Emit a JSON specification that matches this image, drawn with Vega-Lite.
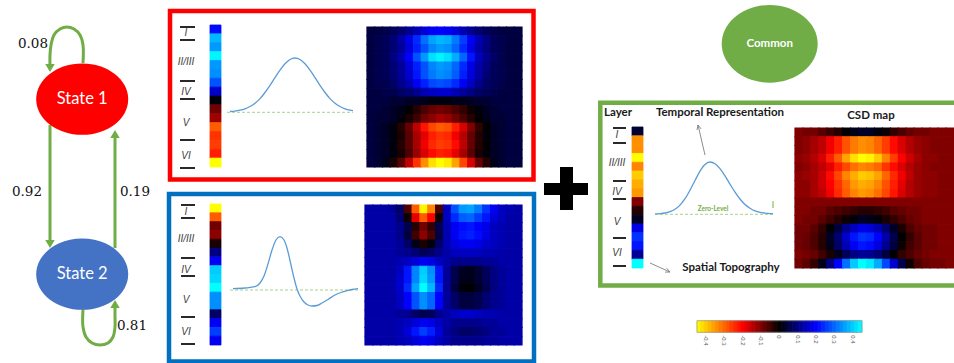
{
"$schema": "https://vega.github.io/schema/vega-lite/v6.json",
"width": 954, "height": 363,
"autosize": {"type": "none"},
"padding": 0,
"background": "#ffffff",
"config": {"view": {"stroke": null}, "axis": {"disable": true}, "font": "Lato"},
"datasets": {
"boxes": [{"b":"A","x":170,"x2":533.5,"y":11,"y2":179.5},{"b":"B","x":169,"x2":534,"y":194,"y2":361.5},{"b":"C","x":600.3,"x2":960,"y":102.7,"y2":285.5}],
"plus": [{"x":544,"x2":588,"y":183,"y2":195},{"x":560,"x2":573,"y":167,"y2":210}],
"arrows": [
{"id":"l1","o":0,"x":83,"y":63},{"id":"l1","o":1,"x":83,"y":45},{"id":"l1","o":2,"x":80,"y":35},{"id":"l1","o":3,"x":74,"y":29},{"id":"l1","o":4,"x":67,"y":27},{"id":"l1","o":5,"x":60,"y":29},{"id":"l1","o":6,"x":54,"y":35},{"id":"l1","o":7,"x":51,"y":45},{"id":"l1","o":8,"x":50,"y":55},{"id":"l1","o":9,"x":50,"y":66},
{"id":"d","o":0,"x":50,"y":125},{"id":"d","o":1,"x":50,"y":242},
{"id":"u","o":0,"x":115,"y":248},{"id":"u","o":1,"x":115,"y":136},
{"id":"l2","o":0,"x":83,"y":309},{"id":"l2","o":1,"x":83,"y":327},{"id":"l2","o":2,"x":86,"y":337},{"id":"l2","o":3,"x":92,"y":343},{"id":"l2","o":4,"x":100,"y":345},{"id":"l2","o":5,"x":108,"y":343},{"id":"l2","o":6,"x":113,"y":337},{"id":"l2","o":7,"x":115,"y":327},{"id":"l2","o":8,"x":115,"y":316},{"id":"l2","o":9,"x":115,"y":306}],
"tips": [{"d":"down","x":50,"y":68},{"d":"down","x":50,"y":244},{"d":"up","x":115,"y":134},{"d":"up","x":115,"y":304}],
"states": [{"n":"State 1","x":82.2,"y":99.2},{"n":"State 2","x":82.2,"y":274.2}],
"common": [{"n":"Common","x":769.7,"y":43.8}],
"probs": [{"t":"0.08","x":33,"y":44},{"t":"0.92","x":27,"y":192},{"t":"0.19","x":135,"y":192},{"t":"0.81","x":132,"y":326}],
"ticks": [
{"x":180,"x2":195,"y":27},{"x":180,"x2":195,"y":40},{"x":180,"x2":195,"y":81},{"x":180,"x2":195,"y":99},{"x":180,"x2":195,"y":140},{"x":180,"x2":195,"y":168},
{"x":181,"x2":195,"y":205},{"x":181,"x2":195,"y":218},{"x":181,"x2":195,"y":258},{"x":181,"x2":195,"y":276},{"x":181,"x2":195,"y":317},{"x":181,"x2":195,"y":344},
{"x":613,"x2":626,"y":128},{"x":613,"x2":626,"y":143},{"x":613,"x2":626,"y":181},{"x":613,"x2":626,"y":199},{"x":613,"x2":626,"y":238},{"x":613,"x2":626,"y":266}],
"labels": [
{"t":"I","x":186,"y":33},{"t":"II/III","x":186,"y":62},{"t":"IV","x":186,"y":92},{"t":"V","x":186,"y":123},{"t":"VI","x":186,"y":156},
{"t":"I","x":186,"y":212},{"t":"II/III","x":186,"y":239},{"t":"IV","x":186,"y":270},{"t":"V","x":186,"y":300},{"t":"VI","x":186,"y":332},
{"t":"I","x":617,"y":135},{"t":"II/III","x":617,"y":163},{"t":"IV","x":617,"y":192},{"t":"V","x":617,"y":222},{"t":"VI","x":617,"y":253}],
"curves": [
{"id":"A","x":230,"y":111.5},{"id":"A","x":235,"y":111.1},{"id":"A","x":240,"y":110.2},{"id":"A","x":245,"y":108.8},{"id":"A","x":250,"y":106.5},{"id":"A","x":255,"y":103.2},{"id":"A","x":260,"y":98.6},{"id":"A","x":265,"y":92.5},{"id":"A","x":270,"y":85.4},{"id":"A","x":275,"y":77.7},{"id":"A","x":280,"y":70.2},{"id":"A","x":285,"y":63.8},{"id":"A","x":290,"y":59.5},{"id":"A","x":295,"y":58},{"id":"A","x":300,"y":59.5},{"id":"A","x":305,"y":63.8},{"id":"A","x":310,"y":70.2},{"id":"A","x":315,"y":77.7},{"id":"A","x":320,"y":85.4},{"id":"A","x":325,"y":92.5},{"id":"A","x":330,"y":98.6},{"id":"A","x":335,"y":103.2},{"id":"A","x":340,"y":106.5},{"id":"A","x":345,"y":108.8},{"id":"A","x":350,"y":110.2},{"id":"A","x":353,"y":110.7},
{"id":"B","x":233,"y":288.7},{"id":"B","x":245,"y":288},{"id":"B","x":255,"y":286.7},{"id":"B","x":260,"y":283},{"id":"B","x":264,"y":276},{"id":"B","x":268,"y":264},{"id":"B","x":272,"y":250},{"id":"B","x":276,"y":240},{"id":"B","x":280,"y":236.7},{"id":"B","x":284,"y":240},{"id":"B","x":287,"y":248},{"id":"B","x":291,"y":265},{"id":"B","x":294,"y":278},{"id":"B","x":297,"y":289},{"id":"B","x":300,"y":296},{"id":"B","x":304,"y":302},{"id":"B","x":308,"y":305},{"id":"B","x":312,"y":306},{"id":"B","x":317,"y":305.5},{"id":"B","x":322,"y":303},{"id":"B","x":328,"y":299.5},{"id":"B","x":335,"y":295},{"id":"B","x":341,"y":292.5},{"id":"B","x":347,"y":290.7},{"id":"B","x":352,"y":289.5},{"id":"B","x":358,"y":288.7},
{"id":"C","x":655,"y":213.9},{"id":"C","x":660,"y":213.6},{"id":"C","x":665,"y":213},{"id":"C","x":670,"y":211.7},{"id":"C","x":675,"y":209.3},{"id":"C","x":680,"y":205.1},{"id":"C","x":685,"y":198.7},{"id":"C","x":690,"y":190.2},{"id":"C","x":695,"y":180.5},{"id":"C","x":700,"y":171.2},{"id":"C","x":705,"y":164.5},{"id":"C","x":710,"y":162},{"id":"C","x":715,"y":163.8},{"id":"C","x":720,"y":168.7},{"id":"C","x":725,"y":175.9},{"id":"C","x":730,"y":184.1},{"id":"C","x":735,"y":192.1},{"id":"C","x":740,"y":199},{"id":"C","x":745,"y":204.5},{"id":"C","x":750,"y":208.3},{"id":"C","x":755,"y":210.9},{"id":"C","x":760,"y":212.4},{"id":"C","x":765,"y":213.2},{"id":"C","x":770,"y":213.6},{"id":"C","x":773,"y":213.7}],
"zeros": [{"x":227,"x2":353,"y":112.3},{"x":230,"x2":358,"y":290},{"x":655,"x2":773,"y":214.3}],
"gtick": [{"x":773,"y":201,"y2":208}],
"gray": [
{"id":"T","o":0,"x":705,"y":155},{"id":"T","o":1,"x":698,"y":125},
{"id":"Tw","o":0,"x":697,"y":130},{"id":"Tw","o":1,"x":698,"y":125},{"id":"Tw","o":2,"x":701.1,"y":128.9},
{"id":"S","o":0,"x":650,"y":263},{"id":"S","o":1,"x":670,"y":272},
{"id":"Sw","o":0,"x":666.7,"y":268.2},{"id":"Sw","o":1,"x":670,"y":272},{"id":"Sw","o":2,"x":665,"y":272.1}],
"titles": [{"t":"Temporal Representation","x":720,"y":113},{"t":"CSD map","x":871,"y":116},{"t":"Spatial Topography","x":731,"y":268},{"t":"Layer","x":618,"y":113}],
"zl": [{"t":"Zero-Level","x":713,"y":209}],
"cbar": [{"g":1,"v":[-0.44,-0.42,-0.4,-0.38,-0.36,-0.34,-0.32,-0.3,-0.28,-0.26,-0.24,-0.22,-0.2,-0.18,-0.16,-0.14,-0.12,-0.1,-0.08,-0.06,-0.04,-0.02,0,0.02,0.04,0.06,0.08,0.1,0.12,0.14,0.16,0.18,0.2,0.22,0.24,0.26,0.28,0.3,0.32,0.34,0.36,0.38,0.4,0.42,0.44]}],
"cticks": [{"g":1,"v":[-0.4,-0.3,-0.2,-0.1,0,0.1,0.2,0.3,0.4],"s":["-0.4","-0.3","-0.2","-0.1","0","0.1","0.2","0.3","0.4"]}],
"strips": [
{"p":"A","c":1,"v":[0.21,0.38,0.35,0.44,0.35,0.34,0.28,0.16,0.01,-0.09,-0.125,-0.29,-0.25,-0.26,-0.23,-0.45]},
{"p":"B","c":1,"v":[-0.45,-0.29,-0.09,-0.11,-0.02,0.1,0.19,0.4,0.41,0.45,0.34,0.34,0.08,0.19,0.26,0.19]},
{"p":"C","c":1,"v":[0.04,-0.34,-0.34,-0.45,-0.33,-0.4,-0.37,-0.35,-0.1,-0.03,0.025,0.18,0.25,0.22,0.12,0.45]}],
"heat": [
{"p":"A","r":"a","v":[0.05,0.05,0.06,0.07,0.09,0.11,0.14,0.17,0.19,0.2,0.19,0.17,0.14,0.11,0.09,0.07,0.06,0.05,0.05,0.05]},
{"p":"A","r":"b","v":[0.05,0.06,0.07,0.09,0.13,0.18,0.24,0.31,0.36,0.38,0.37,0.32,0.26,0.19,0.14,0.1,0.07,0.06,0.05,0.05]},
{"p":"A","r":"c","v":[0.05,0.06,0.07,0.09,0.12,0.17,0.23,0.28,0.33,0.35,0.34,0.3,0.24,0.18,0.13,0.1,0.07,0.06,0.05,0.05]},
{"p":"A","r":"d","v":[0.05,0.06,0.07,0.1,0.14,0.2,0.28,0.35,0.42,0.44,0.42,0.37,0.3,0.22,0.15,0.11,0.08,0.06,0.05,0.05]},
{"p":"A","r":"e","v":[0.05,0.06,0.07,0.09,0.12,0.17,0.23,0.28,0.33,0.35,0.34,0.3,0.24,0.18,0.13,0.1,0.07,0.06,0.05,0.05]},
{"p":"A","r":"f","v":[0.05,0.06,0.07,0.09,0.12,0.16,0.22,0.28,0.32,0.34,0.33,0.29,0.23,0.17,0.13,0.09,0.07,0.06,0.05,0.05]},
{"p":"A","r":"g","v":[0.05,0.06,0.06,0.08,0.11,0.14,0.19,0.23,0.27,0.28,0.27,0.24,0.19,0.15,0.11,0.08,0.07,0.06,0.05,0.05]},
{"p":"A","r":"h","v":[0.05,0.05,0.06,0.06,0.08,0.09,0.11,0.14,0.15,0.16,0.16,0.14,0.12,0.1,0.08,0.07,0.06,0.05,0.05,0.05]},
{"p":"A","r":"i","v":[0.05,0.05,0.05,0.04,0.04,0.03,0.03,0.02,0.01,0.01,0.01,0.02,0.02,0.03,0.04,0.04,0.05,0.05,0.05,0.05]},
{"p":"A","r":"j","v":[0.05,0.05,0.04,0.03,0.02,0,-0.03,-0.06,-0.08,-0.09,-0.08,-0.06,-0.04,-0.01,0.01,0.03,0.04,0.05,0.05,0.05]},
{"p":"A","r":"k","v":[0.05,0.04,0.04,0.03,0.01,-0.02,-0.05,-0.09,-0.11,-0.13,-0.12,-0.09,-0.06,-0.03,0,0.02,0.04,0.04,0.05,0.05]},
{"p":"A","r":"l","v":[0.05,0.04,0.03,0.01,-0.03,-0.08,-0.15,-0.22,-0.27,-0.29,-0.28,-0.23,-0.17,-0.1,-0.04,0,0.03,0.04,0.05,0.05]},
{"p":"A","r":"m","v":[0.05,0.04,0.03,0.01,-0.02,-0.07,-0.13,-0.18,-0.23,-0.25,-0.24,-0.19,-0.14,-0.08,-0.03,0.01,0.03,0.04,0.05,0.05]},
{"p":"A","r":"n","v":[0.05,0.04,0.03,0.01,-0.03,-0.07,-0.13,-0.19,-0.24,-0.26,-0.25,-0.21,-0.15,-0.08,-0.03,0,0.03,0.04,0.05,0.05]},
{"p":"A","r":"o","v":[0.05,0.04,0.03,0.01,-0.02,-0.06,-0.12,-0.17,-0.21,-0.23,-0.22,-0.18,-0.13,-0.07,-0.02,0.01,0.03,0.04,0.05,0.05]},
{"p":"A","r":"p","v":[0.05,0.04,0.02,-0.02,-0.07,-0.15,-0.25,-0.34,-0.42,-0.45,-0.43,-0.36,-0.27,-0.17,-0.08,-0.03,0.02,0.04,0.05,0.05]},
{"p":"B","r":"a","v":[0.13,0.13,0.13,0.12,0.08,-0.06,-0.29,-0.44,-0.33,-0.06,0.15,0.28,0.35,0.36,0.32,0.25,0.19,0.15,0.14,0.13]},
{"p":"B","r":"b","v":[0.13,0.13,0.13,0.13,0.09,-0.01,-0.18,-0.29,-0.2,-0.01,0.15,0.24,0.29,0.3,0.26,0.22,0.17,0.15,0.13,0.13]},
{"p":"B","r":"c","v":[0.13,0.13,0.13,0.13,0.11,0.06,-0.03,-0.09,-0.04,0.06,0.14,0.19,0.21,0.22,0.2,0.18,0.15,0.14,0.13,0.13]},
{"p":"B","r":"d","v":[0.13,0.13,0.13,0.13,0.11,0.05,-0.05,-0.11,-0.06,0.05,0.14,0.19,0.22,0.23,0.21,0.18,0.15,0.14,0.13,0.13]},
{"p":"B","r":"e","v":[0.13,0.13,0.13,0.13,0.12,0.08,0.02,-0.02,0.01,0.08,0.14,0.17,0.19,0.19,0.18,0.16,0.15,0.14,0.13,0.13]},
{"p":"B","r":"f","v":[0.13,0.13,0.13,0.13,0.12,0.11,0.09,0.07,0.08,0.11,0.13,0.15,0.15,0.15,0.15,0.14,0.14,0.13,0.13,0.13]},
{"p":"B","r":"g","v":[0.13,0.13,0.13,0.13,0.14,0.15,0.17,0.19,0.18,0.15,0.13,0.11,0.11,0.11,0.11,0.12,0.12,0.13,0.13,0.13]},
{"p":"B","r":"h","v":[0.13,0.13,0.13,0.13,0.15,0.22,0.33,0.4,0.34,0.22,0.12,0.06,0.03,0.02,0.04,0.07,0.1,0.12,0.13,0.13]},
{"p":"B","r":"i","v":[0.13,0.13,0.13,0.13,0.16,0.22,0.33,0.41,0.35,0.22,0.12,0.06,0.02,0.02,0.04,0.07,0.1,0.12,0.13,0.13]},
{"p":"B","r":"j","v":[0.13,0.13,0.13,0.13,0.16,0.24,0.36,0.45,0.38,0.24,0.12,0.05,0.01,0,0.03,0.06,0.1,0.12,0.13,0.13]},
{"p":"B","r":"k","v":[0.13,0.13,0.13,0.13,0.15,0.2,0.28,0.34,0.3,0.2,0.12,0.08,0.05,0.05,0.06,0.09,0.11,0.12,0.13,0.13]},
{"p":"B","r":"l","v":[0.13,0.13,0.13,0.13,0.15,0.2,0.28,0.34,0.3,0.2,0.12,0.08,0.05,0.05,0.06,0.09,0.11,0.12,0.13,0.13]},
{"p":"B","r":"m","v":[0.13,0.13,0.13,0.13,0.12,0.11,0.08,0.06,0.07,0.11,0.13,0.15,0.16,0.16,0.15,0.14,0.14,0.13,0.13,0.13]},
{"p":"B","r":"n","v":[0.13,0.13,0.13,0.13,0.14,0.15,0.17,0.19,0.18,0.15,0.13,0.11,0.11,0.11,0.11,0.12,0.12,0.13,0.13,0.13]},
{"p":"B","r":"o","v":[0.13,0.13,0.13,0.13,0.14,0.17,0.22,0.26,0.23,0.17,0.12,0.1,0.08,0.08,0.09,0.1,0.12,0.12,0.13,0.13]},
{"p":"B","r":"p","v":[0.13,0.13,0.13,0.13,0.14,0.15,0.17,0.19,0.18,0.15,0.13,0.11,0.11,0.11,0.11,0.12,0.12,0.13,0.13,0.13]},
{"p":"C","r":"a","v":[-0.1,-0.09,-0.09,-0.07,-0.05,-0.03,0,0.02,0.03,0.03,0.01,-0.01,-0.04,-0.06,-0.08,-0.09,-0.09,-0.1,-0.1,-0.1]},
{"p":"C","r":"b","v":[-0.1,-0.11,-0.13,-0.15,-0.19,-0.23,-0.28,-0.32,-0.34,-0.33,-0.3,-0.26,-0.21,-0.17,-0.14,-0.12,-0.11,-0.1,-0.1,-0.1]},
{"p":"C","r":"c","v":[-0.1,-0.11,-0.13,-0.15,-0.19,-0.23,-0.28,-0.32,-0.34,-0.33,-0.3,-0.26,-0.21,-0.17,-0.14,-0.12,-0.11,-0.1,-0.1,-0.1]},
{"p":"C","r":"d","v":[-0.11,-0.12,-0.14,-0.17,-0.23,-0.29,-0.36,-0.42,-0.45,-0.44,-0.4,-0.33,-0.26,-0.2,-0.16,-0.13,-0.11,-0.11,-0.1,-0.1]},
{"p":"C","r":"e","v":[-0.1,-0.11,-0.13,-0.15,-0.18,-0.23,-0.27,-0.31,-0.33,-0.32,-0.3,-0.25,-0.21,-0.17,-0.14,-0.12,-0.11,-0.1,-0.1,-0.1]},
{"p":"C","r":"f","v":[-0.11,-0.12,-0.13,-0.16,-0.21,-0.27,-0.33,-0.37,-0.4,-0.39,-0.36,-0.3,-0.24,-0.19,-0.15,-0.12,-0.11,-0.11,-0.1,-0.1]},
{"p":"C","r":"g","v":[-0.11,-0.11,-0.13,-0.16,-0.2,-0.25,-0.3,-0.35,-0.37,-0.36,-0.33,-0.28,-0.23,-0.18,-0.14,-0.12,-0.11,-0.11,-0.1,-0.1]},
{"p":"C","r":"h","v":[-0.11,-0.11,-0.13,-0.15,-0.19,-0.24,-0.29,-0.33,-0.35,-0.34,-0.31,-0.27,-0.22,-0.17,-0.14,-0.12,-0.11,-0.11,-0.1,-0.1]},
{"p":"C","r":"i","v":[-0.1,-0.1,-0.1,-0.1,-0.1,-0.1,-0.1,-0.1,-0.1,-0.1,-0.1,-0.1,-0.1,-0.1,-0.1,-0.1,-0.1,-0.1,-0.1,-0.1]},
{"p":"C","r":"j","v":[-0.1,-0.1,-0.09,-0.09,-0.07,-0.06,-0.05,-0.04,-0.03,-0.03,-0.04,-0.05,-0.07,-0.08,-0.09,-0.09,-0.1,-0.1,-0.1,-0.1]},
{"p":"C","r":"k","v":[-0.1,-0.09,-0.09,-0.07,-0.05,-0.03,-0.01,0.01,0.03,0.02,0.01,-0.02,-0.04,-0.06,-0.08,-0.09,-0.1,-0.1,-0.1,-0.1]},
{"p":"C","r":"l","v":[-0.09,-0.09,-0.07,-0.04,0,0.05,0.11,0.15,0.18,0.17,0.14,0.09,0.03,-0.02,-0.06,-0.08,-0.09,-0.09,-0.1,-0.1]},
{"p":"C","r":"m","v":[-0.09,-0.08,-0.06,-0.03,0.03,0.09,0.16,0.22,0.25,0.24,0.2,0.13,0.06,0,-0.04,-0.07,-0.09,-0.09,-0.1,-0.1]},
{"p":"C","r":"n","v":[-0.09,-0.08,-0.06,-0.03,0.02,0.08,0.14,0.19,0.22,0.21,0.17,0.11,0.05,-0.01,-0.05,-0.07,-0.09,-0.09,-0.1,-0.1]},
{"p":"C","r":"o","v":[-0.1,-0.09,-0.08,-0.05,-0.02,0.02,0.07,0.1,0.12,0.11,0.09,0.05,0,-0.04,-0.06,-0.08,-0.09,-0.1,-0.1,-0.1]},
{"p":"C","r":"p","v":[-0.09,-0.07,-0.04,0.02,0.1,0.2,0.31,0.4,0.45,0.43,0.37,0.27,0.16,0.06,-0.01,-0.06,-0.08,-0.09,-0.09,-0.1]}
]
},
"resolve": {"scale": {"x": "independent", "y": "independent", "stroke": "independent"}},
"layer": [
{
"encoding": {
"x": {"field": "x", "type": "quantitative", "scale": {"domain": [0, 954], "nice": false, "zero": false}},
"y": {"field": "y", "type": "quantitative", "scale": {"domain": [0, 363], "nice": false, "zero": false, "reverse": true}}
},
"layer": [
{"data": {"name": "boxes"}, "mark": {"type": "rect", "fill": "transparent", "strokeWidth": 4.5, "clip": true},
 "encoding": {"x2": {"field": "x2"}, "y2": {"field": "y2"}, "stroke": {"field": "b", "type": "nominal", "scale": {"domain": ["A","B","C"], "range": ["#ff0000","#0070c0","#70ad47"]}, "legend": null}}},
{"data": {"name": "plus"}, "mark": {"type": "rect", "fill": "#000000"}, "encoding": {"x2": {"field": "x2"}, "y2": {"field": "y2"}}},
{"data": {"name": "arrows"}, "mark": {"type": "line", "color": "#70ad47", "strokeWidth": 3, "interpolate": "catmull-rom"}, "encoding": {"detail": {"field": "id"}, "order": {"field": "o"}}},
{"data": {"name": "tips"}, "mark": {"type": "point", "filled": true, "color": "#70ad47", "opacity": 1, "size": 90}, "encoding": {"shape": {"field": "d", "type": "nominal", "scale": {"domain": ["down","up"], "range": ["triangle-down","triangle-up"]}, "legend": null}}},
{"data": {"name": "states"}, "mark": {"type": "point", "filled": true, "opacity": 1, "size": 8464, "strokeWidth": 0, "shape": "M-1,0A1,0.775,0,1,1,1,0A1,0.775,0,1,1,-1,0Z"},
 "encoding": {"fill": {"field": "n", "type": "nominal", "scale": {"domain": ["State 1","State 2"], "range": ["#ff0000","#4472c4"]}, "legend": null}}},
{"data": {"name": "common"}, "mark": {"type": "point", "filled": true, "opacity": 1, "size": 9216, "strokeWidth": 0, "color": "#70ad47", "shape": "M-1,0A1,0.81,0,1,1,1,0A1,0.81,0,1,1,-1,0Z"}},
{"data": {"name": "states"}, "mark": {"type": "text", "color": "#ffffff", "fontSize": 16.5, "font": "Lato"}, "encoding": {"text": {"field": "n"}}},
{"data": {"name": "common"}, "mark": {"type": "text", "color": "#ffffff", "fontSize": 11.5, "fontWeight": "bold", "font": "Lato"}, "encoding": {"text": {"field": "n"}}},
{"data": {"name": "probs"}, "mark": {"type": "text", "color": "#111111", "fontSize": 13.5, "font": "DejaVu Serif"}, "encoding": {"text": {"field": "t"}}},
{"data": {"name": "ticks"}, "mark": {"type": "rule", "color": "#111111", "strokeWidth": 1.8}, "encoding": {"x2": {"field": "x2"}}},
{"data": {"name": "labels"}, "mark": {"type": "text", "color": "#404040", "fontSize": 10, "fontStyle": "italic", "font": "Liberation Sans"}, "encoding": {"text": {"field": "t"}}},
{"data": {"name": "zeros"}, "mark": {"type": "rule", "color": "#a9d18e", "strokeWidth": 1, "strokeDash": [3, 2]}, "encoding": {"x2": {"field": "x2"}}},
{"data": {"name": "gtick"}, "mark": {"type": "rule", "color": "#70ad47", "strokeWidth": 1}, "encoding": {"y2": {"field": "y2"}}},
{"data": {"name": "curves"}, "mark": {"type": "line", "color": "#5b9bd5", "strokeWidth": 1.3, "interpolate": "monotone"}, "encoding": {"detail": {"field": "id"}}},
{"data": {"name": "gray"}, "mark": {"type": "line", "color": "#808080", "strokeWidth": 0.9}, "encoding": {"detail": {"field": "id"}, "order": {"field": "o"}}},
{"data": {"name": "titles"}, "mark": {"type": "text", "color": "#1a1a1a", "fontSize": 11.5, "fontWeight": "bold", "font": "Lato"}, "encoding": {"text": {"field": "t"}}},
{"data": {"name": "zl"}, "mark": {"type": "text", "color": "#70ad47", "fontSize": 6.5, "fontWeight": "bold", "font": "Lato"}, "encoding": {"text": {"field": "t"}}}
]
},
{"data": {"name": "heat"},
 "transform": [{"filter": "datum.p === 'A'"}, {"window": [{"op": "row_number", "as": "ri"}]}, {"flatten": ["v"]}, {"window": [{"op": "row_number", "as": "t"}], "groupby": ["ri"]}, {"bin": {"step": 1, "extent": [0, 40], "nice": false}, "field": "t", "as": ["t0", "t1"]}, {"bin": {"step": 1, "extent": [0, 40], "nice": false}, "field": "ri", "as": ["r0", "r1"]}],
 "mark": {"type": "rect", "strokeWidth": 1.2},
 "encoding": {
  "x": {"field": "t0", "type": "quantitative", "scale": {"domain": [-46.355, 76.742], "nice": false, "zero": false}},
  "x2": {"field": "t1"},
  "y": {"field": "r0", "type": "quantitative", "scale": {"domain": [-2.0857, 39.4], "nice": false, "zero": false, "reverse": true}},
  "y2": {"field": "r1"},
  "color": {"field": "v", "type": "quantitative", "scale": {"domain": [-0.45,-0.2,0,0.2,0.45], "range": ["#ffff00","#ff0000","#000000","#0000ff","#00ffff"], "clamp": true, "interpolate": "rgb"}, "legend": null},
  "stroke": {"field": "v", "type": "quantitative", "scale": {"domain": [-0.45,-0.2,0,0.2,0.45], "range": ["#ffff00","#ff0000","#000000","#0000ff","#00ffff"], "clamp": true, "interpolate": "rgb"}, "legend": null}
 }},
{"data": {"name": "heat"},
 "transform": [{"filter": "datum.p === 'B'"}, {"window": [{"op": "row_number", "as": "ri"}]}, {"flatten": ["v"]}, {"window": [{"op": "row_number", "as": "t"}], "groupby": ["ri"]}, {"bin": {"step": 1, "extent": [0, 40], "nice": false}, "field": "t", "as": ["t0", "t1"]}, {"bin": {"step": 1, "extent": [0, 40], "nice": false}, "field": "ri", "as": ["r0", "r1"]}],
 "mark": {"type": "rect", "strokeWidth": 1.2},
 "encoding": {
  "x": {"field": "t0", "type": "quantitative", "scale": {"domain": [-45.497, 76.032], "nice": false, "zero": false}},
  "x2": {"field": "t1"},
  "y": {"field": "r0", "type": "quantitative", "scale": {"domain": [-22.4286, 19.0571], "nice": false, "zero": false, "reverse": true}},
  "y2": {"field": "r1"},
  "color": {"field": "v", "type": "quantitative", "scale": {"domain": [-0.45,-0.2,0,0.2,0.45], "range": ["#ffff00","#ff0000","#000000","#0000ff","#00ffff"], "clamp": true, "interpolate": "rgb"}, "legend": null},
  "stroke": {"field": "v", "type": "quantitative", "scale": {"domain": [-0.45,-0.2,0,0.2,0.45], "range": ["#ffff00","#ff0000","#000000","#0000ff","#00ffff"], "clamp": true, "interpolate": "rgb"}, "legend": null}
 }},
{"data": {"name": "heat"},
 "transform": [{"filter": "datum.p === 'C'"}, {"window": [{"op": "row_number", "as": "ri"}]}, {"flatten": ["v"]}, {"window": [{"op": "row_number", "as": "t"}], "groupby": ["ri"]}, {"bin": {"step": 1, "extent": [0, 40], "nice": false}, "field": "t", "as": ["t0", "t1"]}, {"bin": {"step": 1, "extent": [0, 40], "nice": false}, "field": "ri", "as": ["r0", "r1"]}],
 "mark": {"type": "rect", "strokeWidth": 1.2},
 "encoding": {
  "x": {"field": "t0", "type": "quantitative", "scale": {"domain": [-99, 21], "nice": false, "zero": false}},
  "x2": {"field": "t1"},
  "y": {"field": "r0", "type": "quantitative", "scale": {"domain": [-13.6286, 27.8571], "nice": false, "zero": false, "reverse": true}},
  "y2": {"field": "r1"},
  "color": {"field": "v", "type": "quantitative", "scale": {"domain": [-0.45,-0.2,0,0.2,0.45], "range": ["#ffff00","#ff0000","#000000","#0000ff","#00ffff"], "clamp": true, "interpolate": "rgb"}, "legend": null},
  "stroke": {"field": "v", "type": "quantitative", "scale": {"domain": [-0.45,-0.2,0,0.2,0.45], "range": ["#ffff00","#ff0000","#000000","#0000ff","#00ffff"], "clamp": true, "interpolate": "rgb"}, "legend": null}
 }},
{"data": {"name": "strips"},
 "transform": [{"filter": "datum.p === 'A'"}, {"flatten": ["v"]}, {"window": [{"op": "row_number", "as": "ri"}]}, {"bin": {"step": 1, "extent": [0, 40], "nice": false}, "field": "c", "as": ["c0", "c1"]}, {"bin": {"step": 1, "extent": [0, 40], "nice": false}, "field": "ri", "as": ["r0", "r1"]}],
 "mark": {"type": "rect", "strokeWidth": 0.8},
 "encoding": {
  "x": {"field": "c0", "type": "quantitative", "scale": {"domain": [-18.0909, 68.6364], "nice": false, "zero": false}},
  "x2": {"field": "c1"},
  "y": {"field": "r0", "type": "quantitative", "scale": {"domain": [-1.8169, 39.0845], "nice": false, "zero": false, "reverse": true}},
  "y2": {"field": "r1"},
  "color": {"field": "v", "type": "quantitative", "scale": {"domain": [-0.45,-0.2,0,0.2,0.45], "range": ["#ffff00","#ff0000","#000000","#0000ff","#00ffff"], "clamp": true, "interpolate": "rgb"}, "legend": null},
  "stroke": {"field": "v", "type": "quantitative", "scale": {"domain": [-0.45,-0.2,0,0.2,0.45], "range": ["#ffff00","#ff0000","#000000","#0000ff","#00ffff"], "clamp": true, "interpolate": "rgb"}, "legend": null}
 }},
{"data": {"name": "strips"},
 "transform": [{"filter": "datum.p === 'B'"}, {"flatten": ["v"]}, {"window": [{"op": "row_number", "as": "ri"}]}, {"bin": {"step": 1, "extent": [0, 40], "nice": false}, "field": "c", "as": ["c0", "c1"]}, {"bin": {"step": 1, "extent": [0, 40], "nice": false}, "field": "ri", "as": ["r0", "r1"]}],
 "mark": {"type": "rect", "strokeWidth": 0.8},
 "encoding": {
  "x": {"field": "c0", "type": "quantitative", "scale": {"domain": [-18.0909, 68.6364], "nice": false, "zero": false}},
  "x2": {"field": "c1"},
  "y": {"field": "r0", "type": "quantitative", "scale": {"domain": [-22.1489, 19.0426], "nice": false, "zero": false, "reverse": true}},
  "y2": {"field": "r1"},
  "color": {"field": "v", "type": "quantitative", "scale": {"domain": [-0.45,-0.2,0,0.2,0.45], "range": ["#ffff00","#ff0000","#000000","#0000ff","#00ffff"], "clamp": true, "interpolate": "rgb"}, "legend": null},
  "stroke": {"field": "v", "type": "quantitative", "scale": {"domain": [-0.45,-0.2,0,0.2,0.45], "range": ["#ffff00","#ff0000","#000000","#0000ff","#00ffff"], "clamp": true, "interpolate": "rgb"}, "legend": null}
 }},
{"data": {"name": "strips"},
 "transform": [{"filter": "datum.p === 'C'"}, {"flatten": ["v"]}, {"window": [{"op": "row_number", "as": "ri"}]}, {"bin": {"step": 1, "extent": [0, 40], "nice": false}, "field": "c", "as": ["c0", "c1"]}, {"bin": {"step": 1, "extent": [0, 40], "nice": false}, "field": "ri", "as": ["r0", "r1"]}],
 "mark": {"type": "rect", "strokeWidth": 0.8},
 "encoding": {
  "x": {"field": "c0", "type": "quantitative", "scale": {"domain": [-56.4545, 30.2727], "nice": false, "zero": false}},
  "x2": {"field": "c1"},
  "y": {"field": "r0", "type": "quantitative", "scale": {"domain": [-13.4113, 27.7801], "nice": false, "zero": false, "reverse": true}},
  "y2": {"field": "r1"},
  "color": {"field": "v", "type": "quantitative", "scale": {"domain": [-0.45,-0.2,0,0.2,0.45], "range": ["#ffff00","#ff0000","#000000","#0000ff","#00ffff"], "clamp": true, "interpolate": "rgb"}, "legend": null},
  "stroke": {"field": "v", "type": "quantitative", "scale": {"domain": [-0.45,-0.2,0,0.2,0.45], "range": ["#ffff00","#ff0000","#000000","#0000ff","#00ffff"], "clamp": true, "interpolate": "rgb"}, "legend": null}
 }},
{
 "layer": [
  {"data": {"name": "cbar"},
   "transform": [{"flatten": ["v"]}, {"bin": {"step": 0.02, "extent": [-0.45, 0.45], "nice": false}, "field": "v", "as": ["v0", "v1"]}, {"bin": {"step": 1, "extent": [0, 10], "nice": false}, "field": "g", "as": ["g0", "g1"]}],
   "mark": {"type": "rect", "strokeWidth": 0.8},
   "encoding": {
    "x": {"field": "v0", "type": "quantitative", "scale": {"domain": [-4.25182, 0.95182], "nice": false, "zero": false}},
    "x2": {"field": "v1"},
    "y": {"field": "g0", "type": "quantitative", "scale": {"domain": [-26.6466, 4.6466], "nice": false, "zero": false, "reverse": true}},
    "y2": {"field": "g1"},
    "color": {"field": "v", "type": "quantitative", "scale": {"domain": [-0.45,-0.2,0,0.2,0.45], "range": ["#ffff00","#ff0000","#000000","#0000ff","#00ffff"], "clamp": true, "interpolate": "rgb"}, "legend": null},
    "stroke": {"field": "v", "type": "quantitative", "scale": {"domain": [-0.45,-0.2,0,0.2,0.45], "range": ["#ffff00","#ff0000","#000000","#0000ff","#00ffff"], "clamp": true, "interpolate": "rgb"}, "legend": null}
   }},
  {"data": {"name": "cbar"},
   "transform": [{"flatten": ["v"]}, {"bin": {"step": 0.02, "extent": [-0.45, 0.45], "nice": false}, "field": "v", "as": ["v0", "v1"]}, {"bin": {"step": 1, "extent": [0, 10], "nice": false}, "field": "g", "as": ["g0", "g1"]}, {"aggregate": [{"op": "min", "field": "v0", "as": "v0"}, {"op": "max", "field": "v1", "as": "v1"}], "groupby": ["g0", "g1"]}],
   "mark": {"type": "rect", "fill": "transparent", "stroke": "#a0a0a0", "strokeWidth": 0.8},
   "encoding": {
    "x": {"field": "v0", "type": "quantitative", "scale": {"domain": [-4.25182, 0.95182], "nice": false, "zero": false}},
    "x2": {"field": "v1"},
    "y": {"field": "g0", "type": "quantitative", "scale": {"domain": [-26.6466, 4.6466], "nice": false, "zero": false, "reverse": true}},
    "y2": {"field": "g1"}
   }},
  {"data": {"name": "cticks"},
   "transform": [{"flatten": ["v", "s"]}, {"bin": {"step": 1, "extent": [0, 10], "nice": false}, "field": "g", "as": ["g0", "g1"]}],
   "mark": {"type": "text", "angle": 90, "align": "left", "baseline": "middle", "dx": 3, "fontSize": 6, "color": "#555555", "font": "Liberation Sans"},
   "encoding": {
    "x": {"field": "v", "type": "quantitative", "scale": {"domain": [-4.25182, 0.95182], "nice": false, "zero": false}},
    "y": {"field": "g1", "type": "quantitative", "scale": {"domain": [-26.6466, 4.6466], "nice": false, "zero": false, "reverse": true}},
    "text": {"field": "s"}
   }}
 ]
}
]
}
